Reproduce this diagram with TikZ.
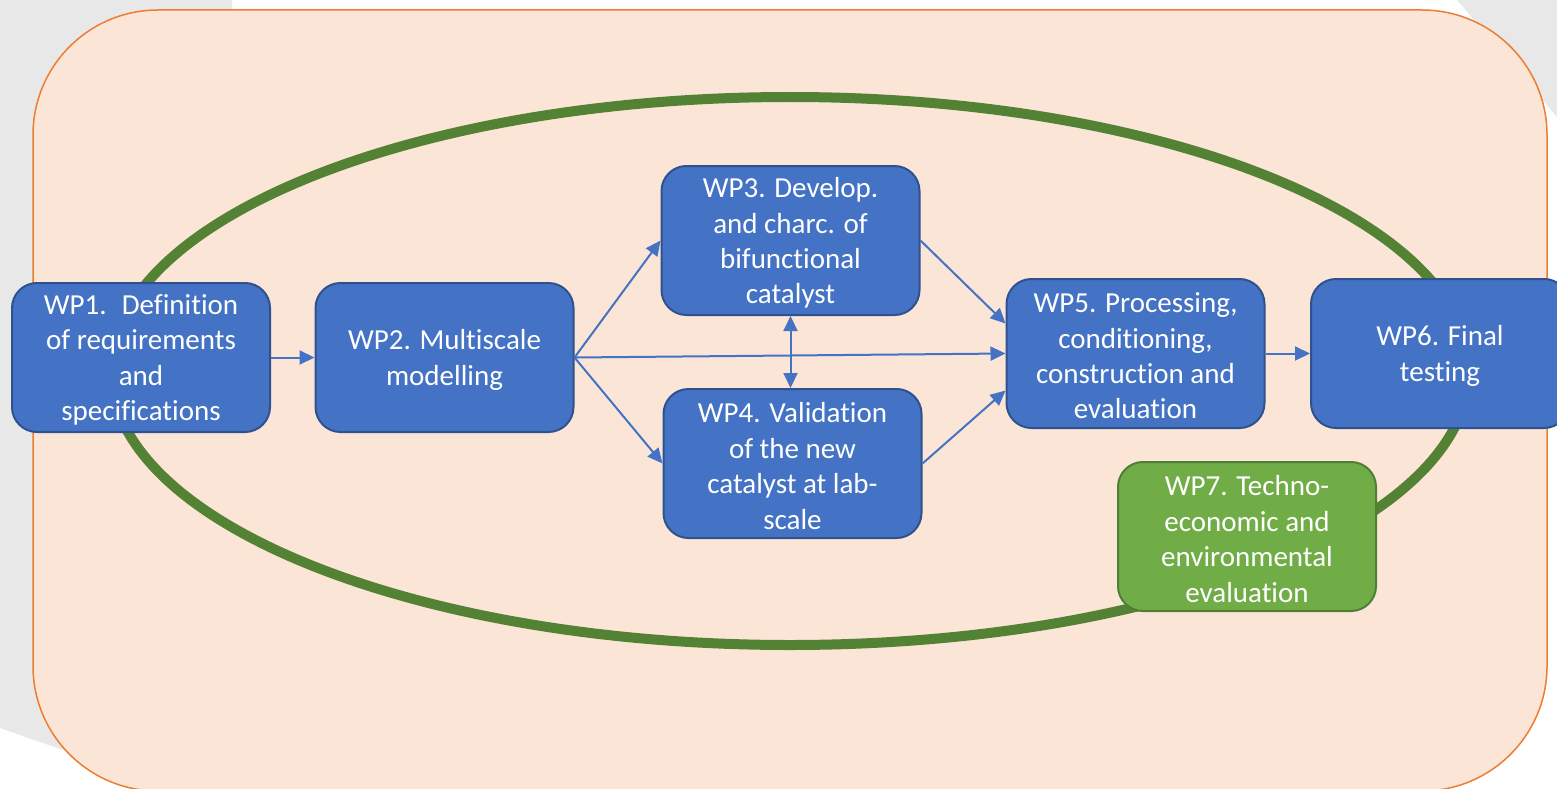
\documentclass[tikz,border=0pt]{standalone}
\usepackage{fontspec}
\setmainfont{Carlito}[Ligatures={NoCommon,NoContextual,NoRare}]
\usetikzlibrary{arrows.meta,calc}
\definecolor{bluefill}{HTML}{4472C4}
\definecolor{blueline}{HTML}{2F528F}
\definecolor{greenfill}{HTML}{70AD47}
\definecolor{greenline}{HTML}{507E32}
\definecolor{ringgreen}{HTML}{548235}
\definecolor{peach}{HTML}{FBE5D6}
\definecolor{orangeline}{HTML}{ED7D31}
\definecolor{bggray}{HTML}{E8E8E8}
\begin{document}
\begin{tikzpicture}[x=1pt,y=-1pt,
  wpbox/.style={draw=blueline, fill=bluefill, line width=2pt, rounded corners=25pt,
    minimum width=258pt, minimum height=149pt, inner sep=0pt},
  wptext/.style={text=white, align=center, inner sep=0pt, yshift=-2.5pt,
    font=\fontsize{29}{35.4}\selectfont},
  wpgreen/.style={wpbox, draw=greenline, fill=greenfill},
  conn/.style={draw=bluefill, line width=2pt, -{Triangle[length=15pt,width=14pt]}},
  conntwo/.style={draw=bluefill, line width=2pt, {Triangle[length=15pt,width=14pt]}-{Triangle[length=15pt,width=14pt]}}]
\useasboundingbox (0,0) rectangle (1557,789);
% background
\fill[white] (0,0) rectangle (1557,789);
\fill[bggray] (0,0) -- (232,0) -- (232,809) -- (0,728) -- cycle;
\fill[bggray] (1457,0) -- (1557,0) -- (1557,117) -- cycle;
% outer frame
\draw[orangeline, fill=peach, line width=1.5pt, rounded corners=125pt] (33,10) rectangle (1547,791);
% ring
\draw[ringgreen, line width=10pt] (790,371) ellipse [x radius=679, y radius=274];
% nodes
\node[wpbox, label={[wptext]center:{WP1.~ Definition\\of requirements\\and\\specifications}}] (wp1) at (141,357.5) {};
\node[wpbox, label={[wptext]center:{WP2. Multiscale\\modelling}}] (wp2) at (444.5,357.5) {};
\node[wpbox, label={[wptext]center:{WP3. Develop.\\and charc. of\\bifunctional\\catalyst}}] (wp3) at (790.5,240.5) {};
\node[wpbox, label={[wptext]center:{WP4. Validation\\of the new\\catalyst at lab-\\scale}}] (wp4) at (792.5,463.5) {};
\node[wpbox, label={[wptext]center:{WP5. Processing,\\conditioning,\\construction and\\evaluation}}] (wp5) at (1135.5,353.5) {};
\node[wpbox, label={[wptext]center:{WP6. Final\\testing}}] (wp6) at (1440,353.5) {};
\node[wpgreen, label={[wptext]center:{WP7. Techno-\\economic and\\environmental\\evaluation}}] (wp7) at (1247,536.5) {};
% connectors
\draw[conn] (wp1.east) -- (wp2.west);
\draw[conn] (wp2.east) -- (wp3.west);
\draw[conn] (wp2.east) -- (wp4.west);
\draw[conn] (wp2.east) -- (wp5.west);
\draw[conntwo] (wp3.south) -- (wp3.south |- wp4.north);
\draw[conn] (wp3.east) -- ([yshift=30pt]wp5.west);
\draw[conn] (wp4.east) -- ([yshift=-37pt]wp5.west);
\draw[conn] (wp5.east) -- (wp6.west);
\end{tikzpicture}
\end{document}
